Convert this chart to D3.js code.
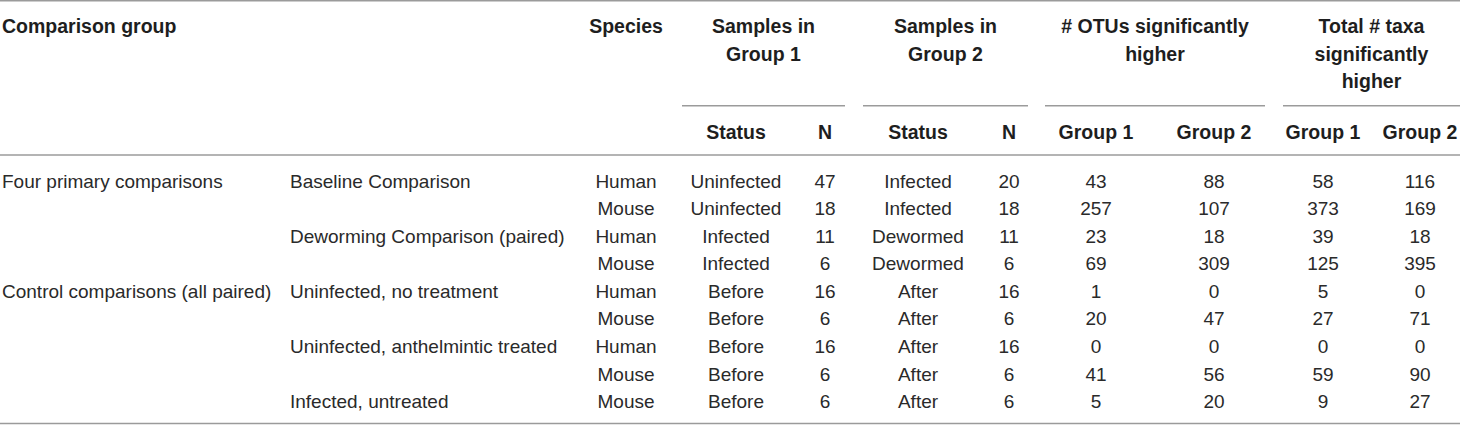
<!DOCTYPE html>
<html>
<head>
<meta charset="utf-8">
<style>
    body { margin: 0; background: #fff; }
    svg text { font-family: "Liberation Sans", Arial, Helvetica, sans-serif; }
    .head { font-weight: bold; font-size: 19.5px; fill: #1e1e1e; }
    .cell { font-size: 19px; fill: #2a2a2a; }
    .rule { stroke: #9b9b9b; stroke-width: 1.6; }
</style>
</head>
<body>
<svg id="table" width="1460" height="425"></svg>

<script src="https://d3js.org/d3.v7.min.js"></script>
<script>
    // table content
    const comparisonGroups = ["Four primary comparisons", "", "", "", "Control comparisons (all paired)", "", "", "", ""];
    const comparisons = ["Baseline Comparison", "", "Deworming Comparison (paired)", "", "Uninfected, no treatment", "",
                         "Uninfected, anthelmintic treated", "", "Infected, untreated"];
    const species = ["Human", "Mouse", "Human", "Mouse", "Human", "Mouse", "Human", "Mouse", "Mouse"];
    const status1 = ["Uninfected", "Uninfected", "Infected", "Infected", "Before", "Before", "Before", "Before", "Before"];
    const n1 = [47, 18, 11, 6, 16, 6, 16, 6, 6];
    const status2 = ["Infected", "Infected", "Dewormed", "Dewormed", "After", "After", "After", "After", "After"];
    const n2 = [20, 18, 11, 6, 16, 6, 16, 6, 6];
    const otuGroup1 = [43, 257, 23, 69, 1, 20, 0, 41, 5];
    const otuGroup2 = [88, 107, 18, 309, 0, 47, 0, 56, 20];
    const taxaGroup1 = [58, 373, 39, 125, 5, 27, 0, 59, 9];
    const taxaGroup2 = [116, 169, 18, 395, 0, 71, 0, 90, 27];

    const spanHeaders = [
        ["Samples in", "Group 1"],
        ["Samples in", "Group 2"],
        ["# OTUs significantly", "higher"],
        ["Total # taxa", "significantly", "higher"]
    ];
    const subHeaders = ["Status", "N", "Status", "N", "Group 1", "Group 2", "Group 1", "Group 2"];

    const svg = d3.select("#table");
    const width = 1460;

    // column layout
    const cols = [
        {values: comparisonGroups, x: 2, anchor: "start"},
        {values: comparisons, x: 290, anchor: "start"},
        {values: species, x: 626, anchor: "middle"},
        {values: status1, x: 736, anchor: "middle"},
        {values: n1, x: 825, anchor: "middle"},
        {values: status2, x: 918, anchor: "middle"},
        {values: n2, x: 1009, anchor: "middle"},
        {values: otuGroup1, x: 1096, anchor: "middle"},
        {values: otuGroup2, x: 1214, anchor: "middle"},
        {values: taxaGroup1, x: 1323, anchor: "middle"},
        {values: taxaGroup2, x: 1420, anchor: "middle"}
    ];
    // spans under the grouped headers
    const spans = [[682, 845], [863, 1028], [1045, 1265], [1283, 1460]];

    const y = d3.scaleLinear().domain([0, species.length - 1]).range([181, 401.5]);
    const headLine = d3.scaleLinear().domain([0, 2]).range([26.5, 81]);

    // rules
    svg.append("line").attr("class", "rule").attr("x1", 0).attr("x2", width).attr("y1", 0.8).attr("y2", 0.8);
    svg.append("line").attr("class", "rule").attr("x1", 0).attr("x2", width).attr("y1", 155).attr("y2", 155);
    svg.append("line").attr("class", "rule").attr("x1", 0).attr("x2", width).attr("y1", 423.5).attr("y2", 423.5);
    svg.selectAll(".span-rule")
       .data(spans)
       .enter().append("line")
       .attr("class", "rule")
       .attr("x1", d => d[0]).attr("x2", d => d[1])
       .attr("y1", 105.7).attr("y2", 105.7);

    // header
    svg.append("text").attr("class", "head").attr("x", cols[0].x).attr("y", headLine(0)).attr("dy", "0.35em")
       .text("Comparison group");
    svg.append("text").attr("class", "head").attr("x", cols[2].x).attr("y", headLine(0)).attr("dy", "0.35em")
       .attr("text-anchor", "middle").text("Species");

    spanHeaders.forEach((lines, i) => {
        const cx = (spans[i][0] + spans[i][1]) / 2;
        svg.selectAll(null)
           .data(lines)
           .enter().append("text")
           .attr("class", "head")
           .attr("x", cx)
           .attr("y", (d, j) => headLine(j))
           .attr("dy", "0.35em")
           .attr("text-anchor", "middle")
           .text(d => d);
    });

    svg.selectAll(".sub")
       .data(subHeaders)
       .enter().append("text")
       .attr("class", "head")
       .attr("x", (d, i) => cols[i + 3].x)
       .attr("y", 131.7)
       .attr("dy", "0.35em")
       .attr("text-anchor", "middle")
       .text(d => d);

    // body
    cols.forEach(col => {
        svg.append("g").selectAll("text")
           .data(col.values)
           .enter().append("text")
           .attr("class", "cell")
           .attr("x", col.x)
           .attr("y", (d, i) => y(i))
           .attr("dy", "0.35em")
           .attr("text-anchor", col.anchor)
           .text(d => d);
    });
</script>
</body>
</html>
